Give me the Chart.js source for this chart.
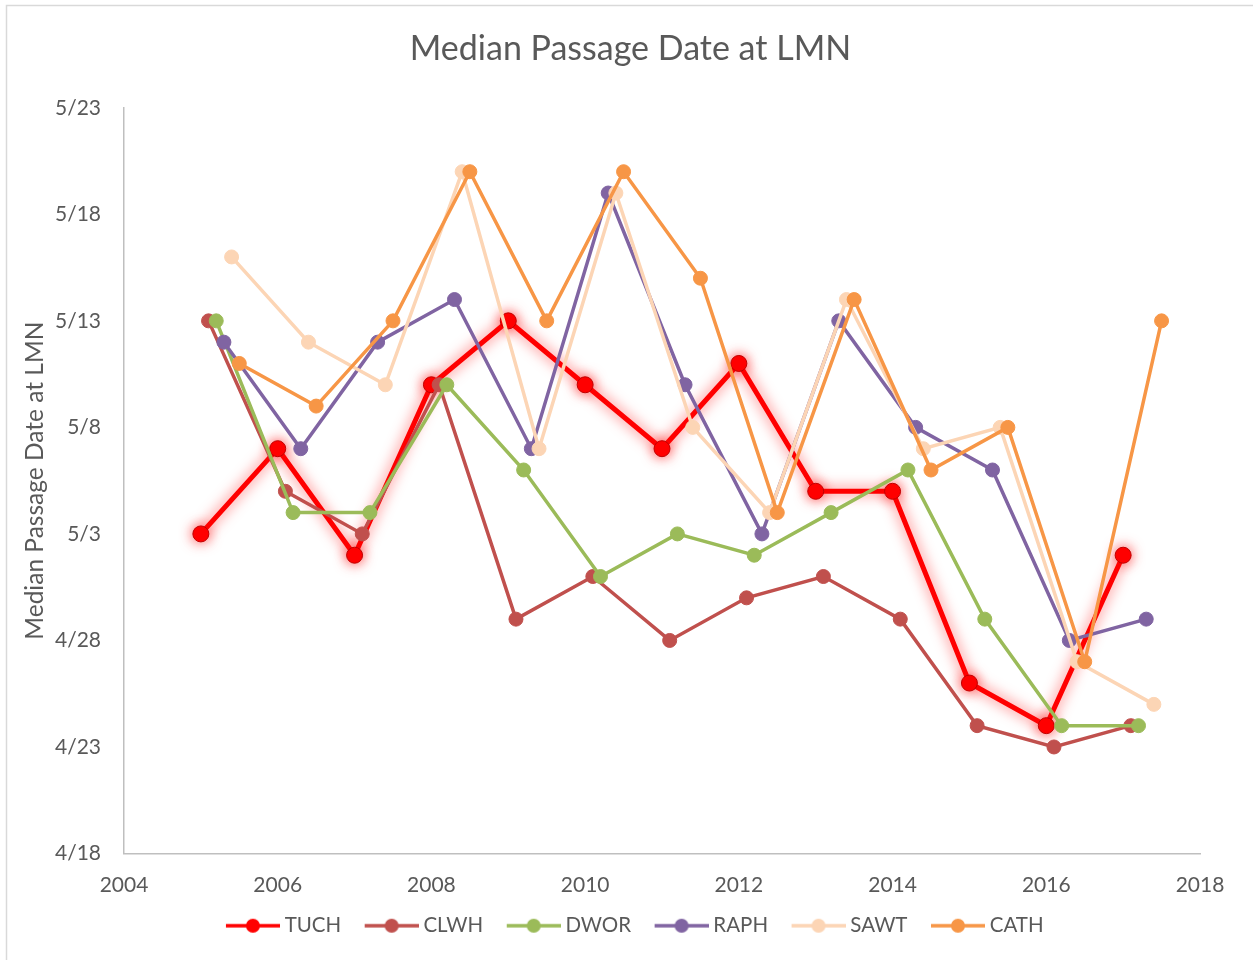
<!DOCTYPE html>
<html>
<head>
<meta charset="utf-8">
<script src="https://cdn.jsdelivr.net/npm/chart.js@4"></script>
<style>
  html, body { margin: 0; padding: 0; background: #fff; }
  #wrap { width: 1253px; height: 960px; position: relative; }
</style>
</head>
<body>
<div id="wrap"><canvas id="chart"></canvas></div>
<script>
// ---- dados ----
const years = [2005, 2006, 2007, 2008, 2009, 2010, 2011, 2012, 2013, 2014, 2015, 2016, 2017];
const yTickLabels = ["4/18", "4/23", "4/28", "5/3", "5/8", "5/13", "5/18", "5/23"];

const TUCH = ["5/3", "5/7", "5/2", "5/10", "5/13", "5/10", "5/7", "5/11", "5/5", "5/5", "4/26", "4/24", "5/2"];
const CLWH = ["5/13", "5/5", "5/3", "5/10", "4/29", "5/1", "4/28", "4/30", "5/1", "4/29", "4/24", "4/23", "4/24"];
const DWOR = ["5/13", "5/4", "5/4", "5/10", "5/6", "5/1", "5/3", "5/2", "5/4", "5/6", "4/29", "4/24", "4/24"];
const RAPH = ["5/12", "5/7", "5/12", "5/14", "5/7", "5/19", "5/10", "5/3", "5/13", "5/8", "5/6", "4/28", "4/29"];
const SAWT = ["5/16", "5/12", "5/10", "5/20", "5/7", "5/19", "5/8", "5/4", "5/14", "5/7", "5/8", "4/27", "4/25"];
const CATH = ["5/11", "5/9", "5/13", "5/20", "5/13", "5/20", "5/15", "5/4", "5/14", "5/6", "5/8", "4/27", "5/13"];

// each site is plotted a little later in the year than the previous one
const xOffsets = [0, 0.1, 0.2, 0.3, 0.4, 0.5];

// ---- helpers ----
const FONT = "Lato, 'Noto Sans', sans-serif";
const TEXT = "#595959";

// dias desde 4/18
const toDay = (s) => {
  const [m, d] = s.split("/").map(Number);
  return m === 4 ? d - 18 : 12 + d;
};
const pts = (arr, off) => arr.map((s, i) => ({ x: years[i] + off, y: toDay(s) }));

const series = [
  { label: "TUCH", data: TUCH, color: "#FF0000", border: "#C00000", width: 5, r: 8 },
  { label: "CLWH", data: CLWH, color: "#C0504D", border: "#C0504D", width: 3.5, r: 7 },
  { label: "DWOR", data: DWOR, color: "#9BBB59", border: "#9BBB59", width: 3.5, r: 7 },
  { label: "RAPH", data: RAPH, color: "#8064A2", border: "#8064A2", width: 3.5, r: 7 },
  { label: "SAWT", data: SAWT, color: "#FCD5B5", border: "#FCD5B5", width: 3.5, r: 7 },
  { label: "CATH", data: CATH, color: "#F79646", border: "#F79646", width: 3.5, r: 7 },
];

// legend icon: line with a dot in the middle (left part of the image is empty on purpose)
const legendIcon = (s) => {
  const c = document.createElement("canvas");
  c.width = 68; c.height = 18;
  const g = c.getContext("2d");
  g.strokeStyle = s.color; g.lineWidth = 3.5;
  g.beginPath(); g.moveTo(14, 9); g.lineTo(68, 9); g.stroke();
  g.fillStyle = s.color;
  g.beginPath(); g.arc(41, 9, 7, 0, Math.PI * 2); g.fill();
  return c;
};

const datasets = series.map((s, i) => ({
  label: s.label,
  data: pts(s.data, xOffsets[i]),
  borderColor: s.color,
  backgroundColor: s.color,
  borderWidth: s.width,
  pointRadius: s.r,
  pointHoverRadius: s.r,
  pointBackgroundColor: s.color,
  pointBorderColor: s.border,
  pointBorderWidth: 1,
  tension: 0,
  order: series.length - i,   // first series at the bottom
  pointStyle: "circle",
  legendIcon: legendIcon(s),
}));

// glow under TUCH
const glow = {
  id: "glow",
  beforeDatasetDraw(chart, args) {
    if (args.index !== 0) return;
    const ctx = chart.ctx;
    ctx.save();
    ctx.shadowColor = "rgba(255,0,0,0.7)";
    ctx.shadowBlur = 14;
    ctx.shadowOffsetX = 0;
    ctx.shadowOffsetY = 0;
  },
  afterDatasetDraw(chart, args) {
    if (args.index !== 0) return;
    chart.ctx.restore();
  },
};

// light frame round the chart
const frame = {
  id: "frame",
  beforeDraw(chart) {
    const ctx = chart.ctx;
    ctx.save();
    ctx.strokeStyle = "#D9D9D9";
    ctx.lineWidth = 1.5;
    ctx.strokeRect(6.5, 5.5, 1300, 1100);
    ctx.restore();
  },
};

new Chart(document.getElementById("chart"), {
  type: "line",
  data: { datasets },
  plugins: [glow, frame],
  options: {
    responsive: true,
    maintainAspectRatio: false,
    animation: false,
    layout: { padding: { left: 8, right: 0, top: 0, bottom: 14 } },
    plugins: {
      title: {
        display: true,
        text: "Median Passage Date at LMN",
        color: TEXT,
        font: { family: FONT, size: 34, weight: "normal" },
        padding: { top: 29, bottom: 38 },
      },
      legend: {
        position: "bottom",
        labels: {
          color: TEXT,
          font: { family: FONT, size: 20.5 },
          usePointStyle: true,
          pointStyleWidth: 57,
          boxHeight: 18,
          padding: 15,
          sort: (a, b) => a.datasetIndex - b.datasetIndex,
          generateLabels: (chart) => chart.data.datasets.map((ds, i) => ({
            text: ds.label,
            fillStyle: ds.borderColor,
            strokeStyle: ds.borderColor,
            fontColor: TEXT,
            pointStyle: ds.legendIcon,
            lineWidth: 0,
            hidden: false,
            datasetIndex: i,
          })),
        },
      },
      tooltip: { enabled: false },
    },
    scales: {
      x: {
        type: "linear",
        min: 2004,
        max: 2018,
        ticks: {
          stepSize: 2,
          color: TEXT,
          font: { family: FONT, size: 21 },
          padding: 19,
          callback: (v) => String(v),
        },
        grid: { drawOnChartArea: false, drawTicks: false },
        border: { color: "#BFBFBF", width: 1.5 },
        afterFit: (s) => { s.height = 47; },
      },
      y: {
        min: 0,
        max: 35,
        ticks: {
          stepSize: 5,
          color: TEXT,
          font: { family: FONT, size: 21 },
          padding: 23,
          callback: (v) => yTickLabels[v / 5],
        },
        title: {
          display: true,
          text: "Median Passage Date at LMN",
          color: TEXT,
          font: { family: FONT, size: 24.5 },
          padding: { top: 12, bottom: 0 },
        },
        grid: { drawOnChartArea: false, drawTicks: false },
        border: { color: "#BFBFBF", width: 1.5 },
        afterFit: (s) => { s.width = 116; },
      },
      // empty right-hand box, only keeps room on the right like the original
      yRight: {
        position: "right",
        display: true,
        ticks: { display: false },
        grid: { display: false },
        border: { display: false },
        afterFit: (s) => { s.width = 53; },
      },
    },
  },
});
</script>
</body>
</html>
